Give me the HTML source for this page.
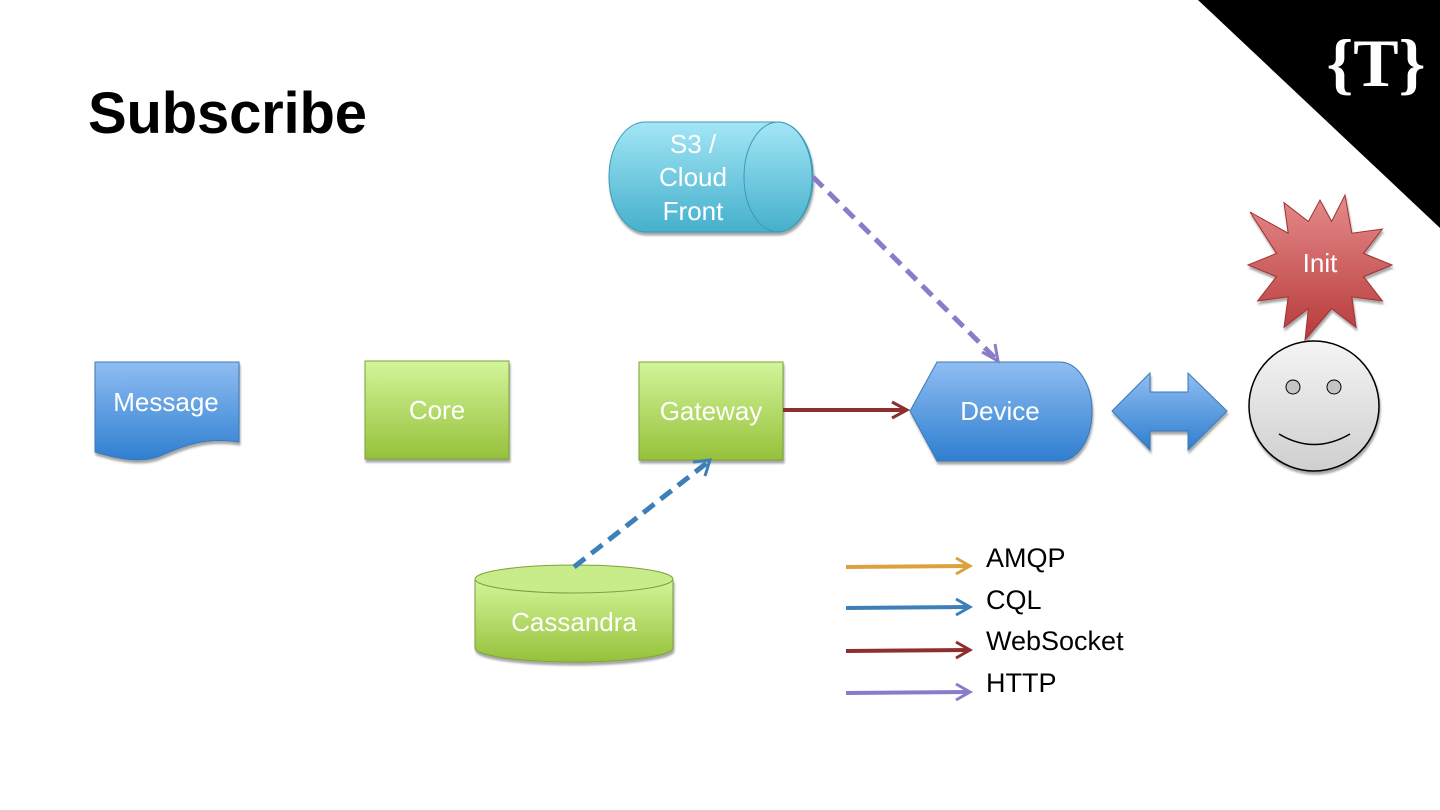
<!DOCTYPE html>
<html><head><style>
html,body{margin:0;padding:0;background:#fff;}
svg{display:block;font-family:"Liberation Sans",sans-serif;}
</style></head><body>
<svg width="1440" height="810" viewBox="0 0 1440 810" xmlns="http://www.w3.org/2000/svg">
<defs>
<linearGradient id="blue" x1="0" y1="0" x2="0" y2="1"><stop offset="0" stop-color="#8fbdf2"/><stop offset="1" stop-color="#2f7fd0"/></linearGradient>
<linearGradient id="green" x1="0" y1="0" x2="0" y2="1"><stop offset="0" stop-color="#d2f59a"/><stop offset="1" stop-color="#96c13a"/></linearGradient>
<linearGradient id="cyan" x1="0" y1="0" x2="0" y2="1"><stop offset="0" stop-color="#a3e6f6"/><stop offset="1" stop-color="#45b0cc"/></linearGradient>
<linearGradient id="red" x1="0" y1="0" x2="0" y2="1"><stop offset="0" stop-color="#e48a8a"/><stop offset="1" stop-color="#b83a3a"/></linearGradient>
<linearGradient id="grey" x1="0" y1="0" x2="0" y2="1"><stop offset="0" stop-color="#f4f4f4"/><stop offset="1" stop-color="#cfcfcf"/></linearGradient>
<filter id="sh" x="-10%" y="-10%" width="130%" height="130%"><feDropShadow dx="1" dy="3" stdDeviation="1" flood-color="#000" flood-opacity="0.35"/></filter>
</defs>
<polygon points="1198,0 1440,0 1440,228" fill="#000"/>
<text x="1376" y="86" fill="#fff" font-family="Liberation Serif,serif" font-size="68" font-weight="bold" text-anchor="middle">{T}</text>
<text x="88" y="133" font-size="58" font-weight="bold" fill="#000" textLength="279">Subscribe</text>

<path d="M95,362 H239 V442 C200,436 175,450 160,456 C140,464 115,458 95,452 Z" fill="url(#blue)" stroke="#3a78b8" filter="url(#sh)"/>
<text x="166" y="411" fill="#fff" font-size="26" text-anchor="middle">Message</text>
<rect x="365" y="361" width="144" height="98" fill="url(#green)" stroke="#7ea23a" filter="url(#sh)"/>
<text x="437" y="419" fill="#fff" font-size="26" text-anchor="middle">Core</text>
<rect x="639" y="362" width="144" height="98" fill="url(#green)" stroke="#7ea23a" filter="url(#sh)"/>
<text x="711" y="420" fill="#fff" font-size="26" text-anchor="middle">Gateway</text>
<path d="M645,122 H778 A35,55 0 0 1 778,232 H645 A36,55 0 0 1 645,122 Z" fill="url(#cyan)" stroke="#3a9ab5" filter="url(#sh)"/>
<ellipse cx="778" cy="177" rx="34" ry="55" fill="url(#cyan)" stroke="#3a9ab5"/>
<text fill="#fff" font-size="26" text-anchor="middle"><tspan x="693" y="153">S3 /</tspan><tspan x="693" y="186">Cloud</tspan><tspan x="693" y="220">Front</tspan></text>
<path d="M475,579 V648 A99,14 0 0 0 673,648 V579" fill="url(#green)" stroke="#7ea23a" filter="url(#sh)"/>
<ellipse cx="574" cy="579" rx="99" ry="14" fill="#c8ec8a" stroke="#7ea23a"/>
<text x="574" y="631" fill="#fff" font-size="26" text-anchor="middle">Cassandra</text>
<path d="M910,411 L937,362 H1060 A32,49.5 0 0 1 1060,461 H937 Z" fill="url(#blue)" stroke="#3a78b8" filter="url(#sh)"/>
<text x="1000" y="420" fill="#fff" font-size="26" text-anchor="middle">Device</text>
<polygon points="1112,411 1150,373 1150,392 1188,392 1188,373 1227,411 1188,450 1188,431 1150,431 1150,450" fill="url(#blue)" stroke="#3a78b8" filter="url(#sh)"/>
<polygon points="1392,265 1363.5,276.6 1382.4,301 1351.8,296.8 1356,327.4 1331.6,308.5 1305,340 1308.4,308.5 1284,327.4 1288.2,296.8 1257.6,301 1276.5,276.6 1248,265 1276.5,253.4 1250,212 1288.2,233.2 1284,202.6 1308.4,221.5 1320,200 1331.6,221.5 1345,195 1351.8,233.2 1382.4,229 1363.5,253.4" fill="url(#red)" stroke="#a03030" filter="url(#sh)"/>
<text x="1320" y="272" fill="#fff" font-size="26" text-anchor="middle">Init</text>
<circle cx="1314" cy="406" r="65" fill="url(#grey)" stroke="#000" stroke-width="1.5" filter="url(#sh)"/>
<circle cx="1293" cy="387" r="7" fill="#c4c4c4" stroke="#000"/>
<circle cx="1334" cy="387" r="7" fill="#c4c4c4" stroke="#000"/>
<path d="M1279,434 Q1314,455 1350,434" fill="none" stroke="#000" stroke-width="1.5"/>
<path d="M813,177 L995,358" stroke="#8a7cc8" stroke-width="5" stroke-dasharray="14,8" fill="none"/>
<path d="M982,352 L998,361 L995,344" stroke="#8a7cc8" stroke-width="3" fill="none"/>
<path d="M783,410 L905,410" stroke="#8e2f2f" stroke-width="4" fill="none"/>
<path d="M892,402 L907,410 L892,418" stroke="#8e2f2f" stroke-width="3" fill="none"/>
<path d="M574,567 L708,462" stroke="#3d7fb8" stroke-width="5" stroke-dasharray="14,8" fill="none"/>
<path d="M693,462 L710,460 L705,476" stroke="#3d7fb8" stroke-width="3" fill="none"/>
<g stroke-width="4" fill="none">
<path d="M846,567 L968,566" stroke="#d9a23a"/><path d="M956,558 L970,566 L956,574" stroke="#d9a23a" stroke-width="3"/>
<path d="M846,608 L968,607" stroke="#3d7fb8"/><path d="M956,599 L970,607 L956,615" stroke="#3d7fb8" stroke-width="3"/>
<path d="M846,651 L968,650" stroke="#8e2f2f"/><path d="M956,642 L970,650 L956,658" stroke="#8e2f2f" stroke-width="3"/>
<path d="M846,693 L968,692" stroke="#8a7cc8"/><path d="M956,684 L970,692 L956,700" stroke="#8a7cc8" stroke-width="3"/>
</g>
<g font-size="27" fill="#000">
<text x="986" y="567">AMQP</text>
<text x="986" y="609">CQL</text>
<text x="986" y="650">WebSocket</text>
<text x="986" y="692">HTTP</text>
</g>
</svg>
</body></html>
